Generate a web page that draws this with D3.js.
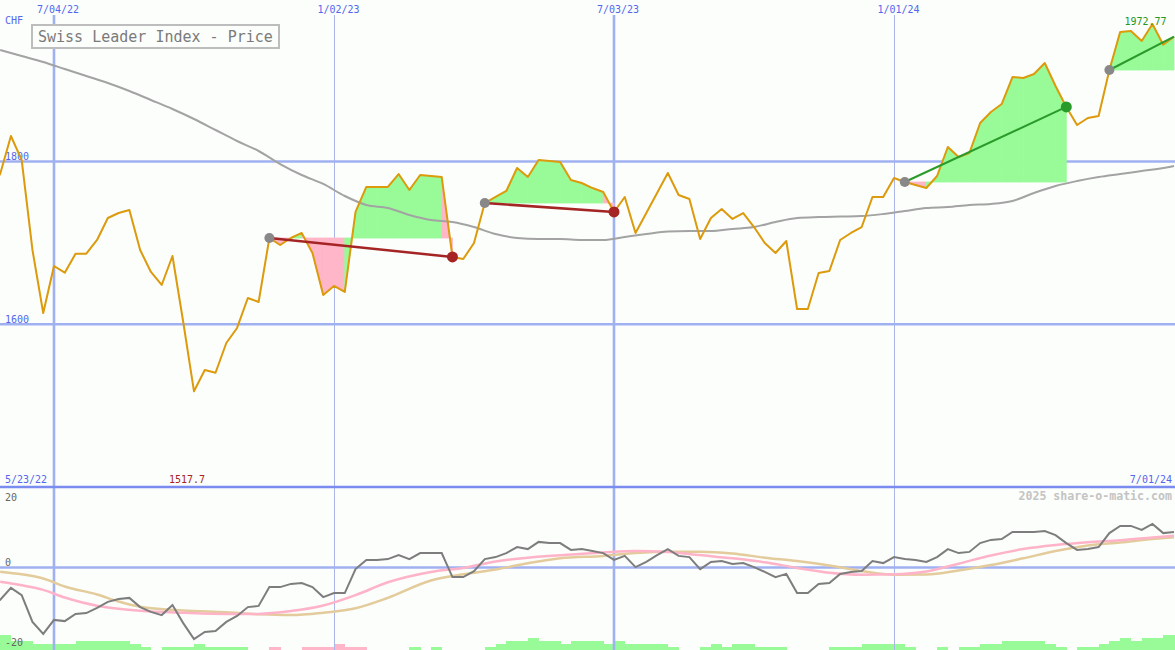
<!DOCTYPE html>
<html><head><meta charset="utf-8">
<script src="https://cdn.jsdelivr.net/npm/d3@7"></script>
<style>
html,body{margin:0;padding:0;background:#fbfefb;}
svg{display:block;}
text{font-family:"DejaVu Sans Mono",monospace;}
</style></head><body>
<svg id="c" width="1175" height="650"></svg>
<script>
// ---------- data ----------
const startDate = "2022-05-23";            // first weekly close
const endDate = "2024-07-01";
const price = [1765,1784.6,1831.3,1801.8,1691.3,1613.9,1671.6,1663.4,1686.7,1686.7,
  1703.6,1730.6,1736.7,1740.4,1691.3,1664.3,1648.3,1683.9,1602.8,1517.7,
  1543.9,1540.5,1577,1595.5,1632.3,1627.4,1706,1697.4,1706,1712.2,
  1687.6,1636,1647.1,1639.7,1738,1768.7,1768.7,1768.7,1784.6,1765,
  1783.4,1782.2,1781,1682.7,1680.2,1699.9,1749,1756.4,1763.8,1792,
  1781,1801.8,1800.6,1799.4,1777.3,1773.6,1767.4,1762.5,1738,1756.4,
  1712.2,1736.7,1761.3,1785.9,1758.8,1753.9,1704.8,1730.6,1741.6,1729.4,
  1736.7,1719.5,1699.9,1687.6,1702.3,1618.8,1618.8,1663,1665.5,1703.6,
  1712.2,1719.5,1756.4,1756.4,1779.7,1774.8,1771.1,1767.4,1782.2,1817.8,
  1805.5,1810.4,1847.3,1860.8,1870.6,1903.8,1902.6,1907.5,1921,1892.8,
  1867,1844.8,1853.4,1855.9,1912.4,1959.1,1960.3,1948,1968.9,1943.5,1953.3];

const maWeeks = [1,3,5,7,9,11,13,15,17,19,21,23,25,27,29,31,33,35,37,39,41,43,45,47,49,51,53,55,57,59,61,63,65,67,69,71,73,75,77,79,81,83,85,87,89,91,93,95,97,99,101,103,105,107,109,110];
const maVals = [1937,1929.6,1922.2,1913.6,1905,1896.4,1886.6,1875.6,1864.5,1852.2,
  1838.7,1825.2,1812.9,1796.9,1783.4,1772.4,1757.6,1746.6,1742.9,1734.3,
  1728.1,1725.7,1719.5,1710.9,1706,1704.8,1704.8,1703.6,1703.6,1707.3,
  1710.9,1714,1714.6,1714.6,1717.1,1719.5,1725.7,1730.6,1731.8,1732.4,
  1733,1735.5,1739.2,1742.9,1744.1,1746.6,1747.8,1751.5,1761.3,1769.9,
  1776,1780.9,1784.6,1788.3,1792,1794.5];

const osc = [-9,-8.1,-5.1,-6.9,-13.6,-16.6,-13.1,-13.4,-11.6,-11.4,
  -10.1,-8.6,-7.9,-7.6,-9.9,-11.1,-11.9,-9.4,-13.9,-17.9,
  -16.1,-15.9,-13.6,-12.1,-9.9,-9.6,-4.9,-4.9,-4.1,-3.9,
  -4.9,-7.4,-6.4,-6.4,-0.4,1.9,1.9,2.1,3.1,2.1,
  3.6,3.6,3.6,-2.4,-2.4,-0.9,2.1,2.6,3.6,5.1,
  4.6,6.4,6.1,6.1,4.4,4.6,4.1,3.6,1.9,2.9,
  0.1,1.4,3.1,4.6,2.9,2.6,-0.4,1.4,1.6,0.9,
  1.1,0.1,-1.1,-2.4,-1.6,-6.4,-6.4,-4.1,-3.9,-1.6,
  -1.1,-0.9,1.6,1.1,2.6,2.1,1.9,1.4,2.6,4.6,
  3.6,3.9,6.1,6.9,7.1,8.9,8.9,8.9,9.1,8.1,
  6.1,4.4,4.6,5.1,8.6,10.4,10.4,9.4,10.9,8.6,8.9];

const sigWeeks = [1,3,5,7,10,12,14,18,22,25,28,31,34,37,41,44,47,50,53,57,60,63,66,69,72,75,78,81,84,87,90,93,96,99,102,105,108,110];
const pinkVals = [-3.55,-4.45,-5.6,-7.5,-9.55,-10.3,-10.8,-11.3,-11.6,-11.6,
  -10.9,-9.5,-6.9,-3.7,-1.1,-0.1,1.5,2.45,3.05,3.75,
  4.1,3.9,3.1,2.3,1.3,-0.1,-1.3,-1.8,-1.7,-1,
  0.95,3,4.6,5.6,6.3,6.8,7.5,7.95];
const tanVals = [-1.05,-1.7,-2.75,-4.75,-6.75,-8.5,-9.8,-10.75,-11.2,-11.7,
  -11.9,-11.3,-10.2,-7.6,-3.25,-1.7,-0.5,1.05,2.3,2.9,
  3.6,3.95,3.95,3.5,2.45,1.6,0.5,-0.9,-1.8,-1.75,
  -0.75,0.6,2.3,4.1,5.5,6.25,7.1,7.55];

const hist = [5,5,3,3,2,2,2,2,3,3,
  3,3,3,2,1,0,1,1,1,2,
  1,1,1,1,0,0,-1,0,0,-1,
  -1,-1,-2,-1,-1,0,0,0,0,1,
  0,1,0,0,0,0,1,2,3,3,
  4,3,3,2,3,3,3,2,3,2,
  2,2,2,1,0,0,1,2,1,2,
  2,1,1,1,0,0,0,0,1,1,
  1,2,2,2,2,1,0,0,1,0,
  1,1,2,2,3,3,3,3,2,1,
  0,1,1,2,3,4,3,4,4,5,5];

const gridDates = ["2022-07-04","2023-01-02","2023-07-03","2024-01-01"];
const gridLabels = ["7/04/22","1/02/23","7/03/23","1/01/24"];
const gridMajor = [true,false,true,false];
const priceTicks = [1800,1600];
const oscTicks = [20,0,-20];
const tradeEntries = ["2022-11-21","2023-04-10","2024-01-08","2024-05-20"];
const tradeExits   = ["2023-03-20","2023-07-03","2024-04-22",null];
const startLabel = "5/23/22", endLabel = "7/01/24";
const minLabel = "1517.7", maxLabel = "1972.77";
const title = "Swiss Leader Index - Price", currency = "CHF", credit = "2025 share-o-matic.com";

// ---------- setup ----------
const W = 1175, H = 650;
const parse = d3.utcParse("%Y-%m-%d");
const t0 = parse(startDate);
const dates = price.map((_, i) => d3.utcDay.offset(t0, 7 * i));
const x = d3.scaleUtc().domain([parse("2022-07-04"), parse(endDate)]).range([54, 1174]);
const yP = d3.scaleLinear().domain([1400, 2000]).range([487.1, -1.3]);
const yO = d3.scaleLinear().domain([-20, 20]).range([647.5, 487.5]);
const yH = d3.scaleLinear().domain([0, 5]).range([650, 635]);

const svg = d3.select("#c");
svg.append("rect").attr("width", W).attr("height", H).attr("fill", "#fbfefb");
const defs = svg.append("defs");
defs.append("clipPath").attr("id", "cp").append("rect").attr("x", 0).attr("y", 0).attr("width", W).attr("height", 487);
defs.append("clipPath").attr("id", "co").append("rect").attr("x", 0).attr("y", 488).attr("width", W).attr("height", 162);

const GRID = "#a0b1f2", GRID_THIN = "#aab5e8", PANEL = "#7b8cf0", LBL = "#5566ee";
const GREEN_FILL = "#98fb98", PINK_FILL = "#ffb6c8";

// histogram bars (bottom)
const gH = svg.append("g").attr("clip-path", "url(#co)").attr("shape-rendering", "crispEdges");
gH.selectAll("rect").data(hist.map((v, i) => ({v, i})).filter(d => d.v !== 0)).join("rect")
  .attr("x", d => x(dates[d.i]))
  .attr("width", d => x(d3.utcDay.offset(dates[d.i], 7)) - x(dates[d.i]) + 0.5)
  .attr("y", d => yH(Math.abs(d.v)))
  .attr("height", d => yH(0) - yH(Math.abs(d.v)))
  .attr("fill", d => d.v > 0 ? GREEN_FILL : PINK_FILL);

// vertical grid
gridDates.forEach((d, i) => {
  const xv = Math.round(x(parse(d))) + (gridMajor[i] ? 0 : 0.5);
  svg.append("line").attr("x1", xv).attr("x2", xv).attr("y1", 15).attr("y2", H)
    .attr("stroke", gridMajor[i] ? GRID : GRID_THIN).attr("stroke-width", gridMajor[i] ? 2.6 : 1);
  svg.append("text").attr("x", xv - 17).attr("y", 13).attr("font-size", 10).attr("fill", LBL).text(gridLabels[i]);
});

// horizontal price grid
priceTicks.forEach(v => {
  const yv = yP(v);
  svg.append("line").attr("x1", 0).attr("x2", W).attr("y1", yv).attr("y2", yv).attr("stroke", GRID).attr("stroke-width", 2.6);
  svg.append("text").attr("x", 5).attr("y", yv - 1.5).attr("font-size", 10).attr("fill", LBL).text(v);
});

// osc zero line & panel line
svg.append("line").attr("x1", 0).attr("x2", W).attr("y1", yO(0)).attr("y2", yO(0)).attr("stroke", GRID).attr("stroke-width", 2.6);
svg.append("line").attr("x1", 0).attr("x2", W).attr("y1", 487).attr("y2", 487).attr("stroke", PANEL).attr("stroke-width", 2.6);

// ---------- price panel ----------
const gP = svg.append("g").attr("clip-path", "url(#cp)");
const idxOf = s => dates.findIndex(d => +d === +parse(s));
const trades = tradeEntries.map((e, i) => ({a: idxOf(e), b: tradeExits[i] ? idxOf(tradeExits[i]) : price.length - 1, open: !tradeExits[i]}));

trades.forEach(t => {
  const ev = price[t.a], ey = yP(ev);
  for (let j = t.a; j < t.b; j++) {
    const pts = [[x(dates[j]), ey], [x(dates[j]), yP(price[j])], [x(dates[j + 1]), yP(price[j + 1])], [x(dates[j + 1]), ey]];
    const col = price[j + 1] > ev ? GREEN_FILL : PINK_FILL;
    gP.append("path").attr("d", "M" + pts.join("L") + "Z")
      .attr("fill", col).attr("stroke", col).attr("stroke-width", 0.8);
  }
});

// moving average
gP.append("path").datum(maWeeks.map((w, i) => [dates[w], maVals[i]]))
  .attr("d", d3.line().x(d => x(d[0])).y(d => yP(d[1])).curve(d3.curveMonotoneX))
  .attr("fill", "none").attr("stroke", "#a3a3a3").attr("stroke-width", 2);

// price line
gP.append("path").datum(price)
  .attr("d", d3.line().x((d, i) => x(dates[i])).y(d => yP(d)))
  .attr("fill", "none").attr("stroke", "#dc9a0c").attr("stroke-width", 2).attr("stroke-linejoin", "round");

// trade lines & dots
trades.forEach(t => {
  const win = price[t.b] > price[t.a];
  const col = win ? "#2a9a2a" : "#a52525";
  gP.append("line").attr("x1", x(dates[t.a])).attr("y1", yP(price[t.a]))
    .attr("x2", x(dates[t.b])).attr("y2", yP(price[t.b]))
    .attr("stroke", col).attr("stroke-width", win ? 2 : 2.5);
  gP.append("circle").attr("cx", x(dates[t.a])).attr("cy", yP(price[t.a])).attr("r", 5).attr("fill", "#888");
  if (!t.open) gP.append("circle").attr("cx", x(dates[t.b])).attr("cy", yP(price[t.b])).attr("r", 5.5).attr("fill", col);
});

// title box
svg.append("rect").attr("x", 32).attr("y", 25).attr("width", 247).attr("height", 23)
  .attr("fill", "#fbfefb").attr("stroke", "#bdbdbd").attr("stroke-width", 2);
svg.append("text").attr("x", 38).attr("y", 41.5).attr("font-size", 15).attr("fill", "#7a7a7a").text(title);
svg.append("text").attr("x", 5).attr("y", 24).attr("font-size", 10).attr("fill", LBL).text(currency);

// min / max labels
const iMin = d3.minIndex(price), iMax = d3.maxIndex(price);
svg.append("text").attr("x", x(dates[iMin]) - 7).attr("y", 483).attr("text-anchor", "middle")
  .attr("font-size", 10).attr("fill", "#aa2222").text(minLabel);
svg.append("text").attr("x", x(dates[iMax]) - 7).attr("y", 25).attr("text-anchor", "middle")
  .attr("font-size", 10).attr("fill", "#229922").text(maxLabel);

// bottom date labels
svg.append("text").attr("x", 5).attr("y", 483).attr("font-size", 10).attr("fill", LBL).text(startLabel);
svg.append("text").attr("x", 1172).attr("y", 483).attr("text-anchor", "end").attr("font-size", 10).attr("fill", LBL).text(endLabel);

// ---------- oscillator panel ----------
const gO = svg.append("g").attr("clip-path", "url(#co)");
const sigLine = d3.line().x(d => x(d[0])).y(d => yO(d[1])).curve(d3.curveMonotoneX);
gO.append("path").datum(sigWeeks.map((w, i) => [dates[w], tanVals[i]]))
  .attr("d", sigLine).attr("fill", "none").attr("stroke", "#e3cb9c").attr("stroke-width", 2.5);
gO.append("path").datum(sigWeeks.map((w, i) => [dates[w], pinkVals[i]]))
  .attr("d", sigLine).attr("fill", "none").attr("stroke", "#ffb3c9").attr("stroke-width", 2.5);
gO.append("path").datum(osc)
  .attr("d", d3.line().x((d, i) => x(dates[i])).y(d => yO(d)))
  .attr("fill", "none").attr("stroke", "#7d7d7d").attr("stroke-width", 2);

oscTicks.forEach(v => {
  svg.append("text").attr("x", 5).attr("y", v === 20 ? yO(v) + 13 : yO(v) - 2)
    .attr("font-size", 10).attr("fill", "#666").text(v);
});
svg.append("text").attr("x", 1172).attr("y", 500).attr("text-anchor", "end")
  .attr("font-size", 11.6).attr("font-weight", "bold").attr("fill", "#c4c4c4").text(credit);
</script>
</body></html>
